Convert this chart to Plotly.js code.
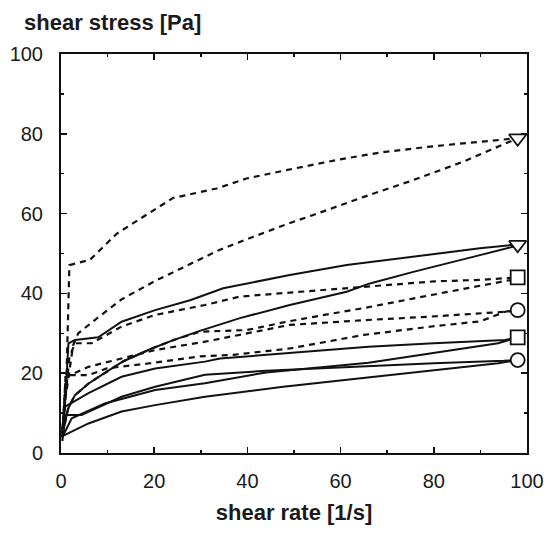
<!DOCTYPE html>
<html>
<head>
<meta charset="utf-8">
<script src="https://cdn.plot.ly/plotly-3.0.1.min.js"></script>
<style>html,body{margin:0;padding:0;background:#fff;}#chart{width:548px;height:533px;}</style>
</head>
<body>
<div id="chart"></div>
<script>
// Dashed curves (hysteresis pairs)
const d1aX = [0.3, 1.2, 1.8, 6.2, 12, 17.6, 24, 33.4, 39.8, 48.4, 59.9, 68.5, 79.2, 89.9, 98];
const d1aY = [3, 20, 47.1, 48.4, 55, 59.2, 63.9, 66.3, 68.8, 70.9, 73.6, 75.3, 76.8, 78, 78.9];
const d1bX = [0.3, 1, 2.6, 3.7, 8, 13, 20, 30, 34, 41.3, 49, 54, 65, 75.6, 86.3, 98];
const d1bY = [5, 14, 27, 30, 34, 38.5, 43, 48.5, 50.9, 54.2, 57.6, 59.6, 64.2, 68.4, 73, 78.9];
const d2aX = [0.3, 1, 1.8, 3, 6.6, 13, 20.2, 30.9, 38.4, 49.1, 66.3, 80, 90, 98];
const d2aY = [6, 15, 24, 27.5, 27.5, 31.7, 34.6, 37.1, 39.2, 40.2, 41.7, 43, 43.4, 44];
const d2bX = [0.3, 1.6, 3, 6, 10, 13.4, 19.1, 24.1, 29.8, 39.8, 42.7, 48.4, 58.4, 64.9, 79.5, 96.7, 98];
const d2bY = [4.5, 11.5, 14.5, 17.5, 20.5, 23, 26, 28.3, 30.4, 30.8, 31.5, 32.9, 35, 36.3, 39.6, 43.4, 44];
const d3aX = [0.3, 1, 5.9, 20.2, 30.9, 49.1, 65.2, 79.5, 95.3, 98];
const d3aY = [5, 19, 21.6, 25.8, 27.9, 32.1, 33.3, 34.2, 35.4, 35.8];
const d3bX = [0.3, 1, 5.9, 9.8, 19.1, 29.8, 37, 49.1, 65, 79.5, 90, 95.3, 98];
const d3bY = [4, 19.5, 19.5, 21.2, 22.5, 24.2, 24.6, 26.2, 29.6, 31.7, 33, 35.4, 35.8];
// Solid curves (hysteresis pairs)
const s1aX = [0.3, 1, 1.6, 3, 8, 13, 20.2, 27.7, 34.8, 42, 49.1, 61.3, 75.6, 89.9, 98];
const s1aY = [6, 15, 27.5, 28.3, 29, 32.9, 35.8, 38.3, 41.3, 42.9, 44.6, 47.1, 49.2, 51.3, 52.3];
const s1bX = [0.2, 1.5, 3, 6, 10, 13.4, 19.1, 24.1, 29.8, 38.4, 49.1, 61.3, 66.3, 75.6, 89.9, 98];
const s1bY = [4, 11, 14.5, 17.5, 20.5, 23, 26, 28.3, 30.6, 33.8, 37.1, 40.4, 42.5, 45.4, 49.6, 52];
const s2aX = [0.3, 0.9, 5.9, 13, 20.2, 30.9, 34.1, 49, 66, 80, 95.3, 98];
const s2aY = [5, 11.6, 15, 19.1, 21.2, 22.9, 23.7, 25, 26.6, 27.5, 28.3, 29];
const s2bX = [0.3, 2.3, 9.4, 20.2, 30.9, 44, 66, 79.5, 93.8, 98];
const s2bY = [4, 8.7, 12.4, 15.8, 17.5, 20.2, 22.6, 25, 27.5, 29];
const s3aX = [0.3, 1, 4.4, 13, 20.2, 30.9, 44, 66, 80, 95, 98];
const s3aY = [4, 9.5, 9.5, 14.1, 16.6, 19.6, 20.6, 21.8, 22.5, 23.1, 23.3];
const s3bX = [0.1, 5.9, 13, 20.2, 30.9, 47.7, 66.3, 80, 93.8, 98];
const s3bY = [4.1, 7.4, 10.4, 12, 14.1, 16.6, 19, 20.7, 22.5, 23.3];
// End markers
const markX = [98, 98, 98, 98, 98, 98];
const markY = [78.9, 52.2, 44, 35.8, 29, 23.3];
const markSymbols = ['triangle-down', 'triangle-down', 'square', 'circle', 'square', 'circle'];
const markSizes = [15, 15, 14, 14, 14, 14];
// Axis labels
const xTitle = 'shear rate [1/s]';
const yTitle = 'shear stress [Pa]';
const tickVals = [0, 20, 40, 60, 80, 100];
const tickText = ['0', '20', '40', '60', '80', '100'];

const dashStyle = '6px,5px';
function line(x, y, dashed) {
  return {x: x, y: y, type: 'scatter', mode: 'lines', hoverinfo: 'skip',
    line: {color: '#111', width: dashed ? 2.2 : 2, dash: dashed ? dashStyle : 'solid', shape: 'linear'}};
}
const traces = [
  line(d1aX, d1aY, true), line(d1bX, d1bY, true),
  line(d2aX, d2aY, true), line(d2bX, d2bY, true),
  line(d3aX, d3aY, true), line(d3bX, d3bY, true),
  line(s1aX, s1aY, false), line(s1bX, s1bY, false),
  line(s2aX, s2aY, false), line(s2bX, s2bY, false),
  line(s3aX, s3aY, false), line(s3bX, s3bY, false),
  {x: markX, y: markY, type: 'scatter', mode: 'markers', hoverinfo: 'skip',
   marker: {symbol: markSymbols, size: markSizes, color: '#ffffff', opacity: 1, line: {color: '#111', width: 1.8}}}
];
const font = {family: '"Liberation Sans", Arial, sans-serif', size: 20, color: '#1a1a1a'};
const axisCommon = {
  range: [0, 100], showgrid: false, zeroline: false, showline: true, linecolor: '#111', linewidth: 2,
  mirror: 'ticks', ticks: 'inside', ticklen: 6, tickwidth: 1.5, tickcolor: '#111',
  tickvals: tickVals, ticktext: tickText, tickfont: font,
  minor: {dtick: 10, ticks: 'inside', ticklen: 3, tickwidth: 1.5, tickcolor: '#111', showgrid: false}
};
const layout = {
  width: 548, height: 533, showlegend: false,
  paper_bgcolor: '#fff', plot_bgcolor: '#fff',
  margin: {l: 61, r: 21, t: 54, b: 80},
  font: font,
  xaxis: Object.assign({}, axisCommon, {ticklabelstandoff: 9,
    title: {text: '<b>' + xTitle + '</b>', font: {family: font.family, size: 22, color: '#1a1a1a'}, standoff: 14}}),
  yaxis: Object.assign({}, axisCommon, {ticklabelstandoff: 12, title: {text: ''}}),
  annotations: [{
    text: '<b>' + yTitle + '</b>', xref: 'paper', yref: 'paper', x: -0.084, y: 1.08,
    xanchor: 'left', yanchor: 'middle', showarrow: false,
    font: {family: font.family, size: 22, color: '#1a1a1a'}
  }]
};
Plotly.newPlot('chart', traces, layout, {staticPlot: true, displayModeBar: false});
</script>
</body>
</html>
